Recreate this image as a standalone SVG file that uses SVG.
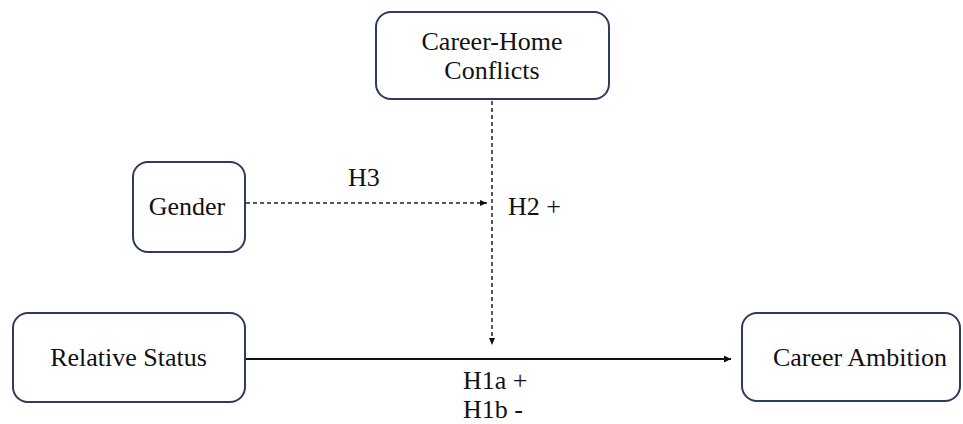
<svg xmlns="http://www.w3.org/2000/svg" width="963" height="424" viewBox="0 0 963 424">
<style>
.box{fill:#fff;stroke:#2e3b5c;stroke-width:2}
.t{font-family:'Liberation Serif','Times New Roman',serif;font-size:26px;fill:#111;text-anchor:middle}
.s{text-anchor:start}
.solid{stroke:#111;stroke-width:2;fill:none}
.dash{stroke:#222;stroke-width:1.5;stroke-dasharray:4 3;fill:none}
</style>
<defs>
<marker id="ah" markerWidth="8" markerHeight="8" refX="7" refY="4" orient="auto" markerUnits="userSpaceOnUse">
<path d="M0,0.5 L7,4 L0,7.5 Z" fill="#111"/>
</marker>
<marker id="ahs" markerWidth="8" markerHeight="8" refX="7" refY="4" orient="auto" markerUnits="userSpaceOnUse">
<path d="M0,1 L7,4 L0,7 Z" fill="#111"/>
</marker>
</defs>
<g id="connectors">
<line class="solid" x1="245" y1="359" x2="731" y2="359" marker-end="url(#ah)"/>
<line class="dash" x1="492" y1="101" x2="492" y2="345" marker-end="url(#ahs)"/>
<line class="dash" x1="246" y1="203" x2="487" y2="203" marker-end="url(#ahs)"/>
<text class="t s" x="348" y="186">H3</text>
<text class="t s" x="508" y="215">H2 +</text>
<text class="t s" x="463" y="389">H1a +</text>
<text class="t s" x="463" y="418">H1b -</text>
</g>
<g id="career-home">
<rect class="box" x="376" y="12" width="233" height="87" rx="15"/>
<text class="t" x="492" y="50">Career-Home</text>
<text class="t" x="492" y="79">Conflicts</text>
</g>
<g id="gender">
<rect class="box" x="133" y="162" width="112" height="90" rx="15"/>
<text class="t" x="187" y="215">Gender</text>
</g>
<g id="relative-status">
<rect class="box" x="13" y="313" width="232" height="89" rx="15"/>
<text class="t" x="128.5" y="366">Relative Status</text>
</g>
<g id="career-ambition">
<rect class="box" x="742" y="313" width="218" height="88" rx="15"/>
<text class="t" x="860" y="366">Career Ambition</text>
</g>
</svg>
